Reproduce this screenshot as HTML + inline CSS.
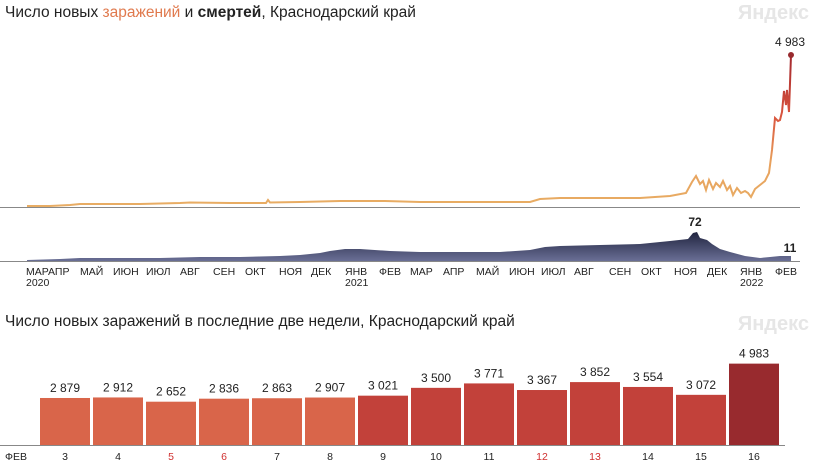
<!DOCTYPE html>
<html><head><meta charset="utf-8"><style>
body{margin:0;width:817px;height:468px;background:#fff;font-family:"Liberation Sans",sans-serif;overflow:hidden;position:relative}
.t{position:absolute;left:5px;font-size:15.5px;color:#222}
.w{position:absolute;right:8px;font-size:20px;font-weight:bold;color:#e6e6e6}
svg{position:absolute;left:0;top:0}
</style></head><body>
<div class="t" style="top:4px">Число новых <span style="color:#e07a4e">заражений</span> и <b>смертей</b>, Краснодарский край</div>
<div class="w" style="top:2px">Яндекс</div>
<div class="t" style="top:313px">Число новых заражений в последние две недели, Краснодарский край</div>
<div class="w" style="top:313px">Яндекс</div>
<svg width="817" height="468" font-family="Liberation Sans, sans-serif">
<defs><linearGradient id="g" x1="0" y1="0" x2="0" y2="1"><stop offset="0" stop-color="#20243f"/><stop offset="1" stop-color="#6a6f96"/></linearGradient>
<linearGradient id="lg" gradientUnits="userSpaceOnUse" x1="0" y1="207" x2="0" y2="55"><stop offset="0" stop-color="#e8ad64"/><stop offset="0.3" stop-color="#e8a05c"/><stop offset="0.6" stop-color="#d9543e"/><stop offset="1" stop-color="#a3282e"/></linearGradient></defs>
<line x1="0" y1="207.5" x2="800" y2="207.5" stroke="#888"/>
<polyline fill="none" stroke="url(#lg)" stroke-width="2" points="27,206 50,206 70,205 80,204 100,204 140,204 180,203 190,202.5 230,203 266,203 268,200 270,202.5 300,202 340,201 385,201 420,202 460,202 500,202 530,202 540,199 560,198 600,198 640,198 670,196 686,193 692,182 696,176 700,184 703,181 706,190 709,180 713,189 716,183 720,187 723,181 727,190 730,186 733,195 737,188 741,193 745,191 748,193 751,197 755,189 760,185 765,181 769,173 772,150 775,118 778,121 780,120 782,112 784,91 786,105 787,90 789,112 791,55"/>
<circle cx="791" cy="55" r="3" fill="#982a2e"/>
<text x="790" y="46" font-size="12" text-anchor="middle" fill="#222">4 983</text>
<path fill="url(#g)" d="M27,261 L27,260 L60,259 L80,258 L120,258 L160,258 L200,257 L240,257 L280,256 L300,255 L320,253 L330,251 L345,249 L360,249 L390,251 L420,252 L460,252 L500,252 L530,250 L545,247 L560,246 L600,245 L640,244 L670,241 L688,239 L693,233 L697,232 L700,238 L707,240 L712,244 L720,249 L730,252 L745,256 L760,258 L770,257 L780,256 L791,256 L791,261 Z"/>
<line x1="0" y1="261.5" x2="800" y2="261.5" stroke="#888"/>
<text x="695" y="226" font-size="12" text-anchor="middle" font-weight="bold" fill="#222">72</text>
<text x="790" y="252" font-size="12" text-anchor="middle" font-weight="bold" fill="#222">11</text>
<g font-size="10.5" fill="#222">
<text x="26" y="275">МАРАПР</text><text x="26" y="286">2020</text>
<text x="80" y="275">МАЙ</text><text x="113" y="275">ИЮН</text><text x="146" y="275">ИЮЛ</text><text x="180" y="275">АВГ</text><text x="213" y="275">СЕН</text><text x="245" y="275">ОКТ</text><text x="279" y="275">НОЯ</text><text x="311" y="275">ДЕК</text><text x="345" y="275">ЯНВ</text><text x="345" y="286">2021</text><text x="379" y="275">ФЕВ</text>
<text x="410" y="275">МАР</text><text x="443" y="275">АПР</text><text x="476" y="275">МАЙ</text><text x="509" y="275">ИЮН</text><text x="541" y="275">ИЮЛ</text><text x="574" y="275">АВГ</text><text x="609" y="275">СЕН</text><text x="641" y="275">ОКТ</text><text x="674" y="275">НОЯ</text><text x="707" y="275">ДЕК</text><text x="740" y="275">ЯНВ</text><text x="740" y="286">2022</text><text x="775" y="275">ФЕВ</text>
</g>
<g id="bars"></g>
<line x1="0" y1="445.5" x2="785" y2="445.5" stroke="#888"/>
<text x="5" y="460" font-size="10.5" fill="#222">ФЕВ</text>
</svg>
<script>
var v=[2879,2912,2652,2836,2863,2907,3021,3500,3771,3367,3852,3554,3072,4983];
var s='';
for(var i=0;i<14;i++){var x=40+i*53,h=v[i]*0.01633,y=445-h,d=i+3;
var c=i<6?'#d9654a':(i<13?'#c2413a':'#982a2e');
s+='<rect x="'+x+'" y="'+y+'" width="50" height="'+h+'" fill="'+c+'"/>';
s+='<text x="'+(x+25)+'" y="'+(y-6)+'" font-size="12" text-anchor="middle" fill="#222">'+v[i].toString().replace(/(\d)(\d{3})$/,'$1 $2')+'</text>';
var red=(d==5||d==6||d==12||d==13);
s+='<text x="'+(x+25)+'" y="460" font-size="10.5" text-anchor="middle" fill="'+(red?'#d03030':'#222')+'">'+d+'</text>';}
document.getElementById('bars').innerHTML=s;
</script>
</body></html>
